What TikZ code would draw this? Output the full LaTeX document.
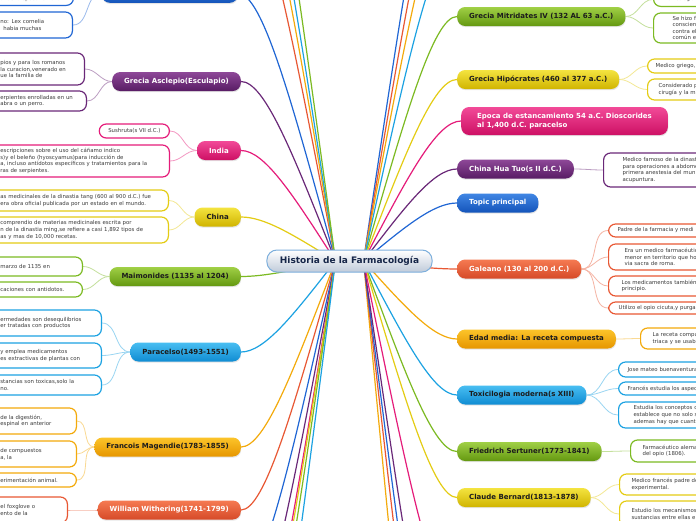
\documentclass[tikz,border=0pt]{standalone}
\usepackage{fontspec}
\setmainfont{DejaVu Sans}
\usetikzlibrary{backgrounds,shadows,calc}

\definecolor{ink}{RGB}{28,28,28}
\definecolor{leafink}{RGB}{60,60,60}
\definecolor{hubline}{RGB}{125,175,220}
\definecolor{hubbot}{RGB}{192,203,218}
\definecolor{hubtext}{RGB}{22,38,72}
\definecolor{gr}{RGB}{124,186,34}
\definecolor{grT}{RGB}{160,208,70}
\definecolor{grB}{RGB}{100,152,16}
\definecolor{ye}{RGB}{228,204,20}
\definecolor{yeT}{RGB}{244,228,64}
\definecolor{yeB}{RGB}{208,180,0}
\definecolor{pk}{RGB}{229,28,122}
\definecolor{pkT}{RGB}{242,74,152}
\definecolor{pkB}{RGB}{205,16,100}
\definecolor{pu}{RGB}{106,40,120}
\definecolor{puT}{RGB}{142,72,152}
\definecolor{puB}{RGB}{88,28,100}
\definecolor{bl}{RGB}{32,102,212}
\definecolor{blT}{RGB}{64,134,228}
\definecolor{blB}{RGB}{20,84,186}
\definecolor{sk}{RGB}{28,162,226}
\definecolor{skT}{RGB}{72,190,242}
\definecolor{skB}{RGB}{16,140,210}
\definecolor{rd}{RGB}{232,88,52}
\definecolor{rdT}{RGB}{245,122,82}
\definecolor{rdB}{RGB}{214,74,40}
\definecolor{og}{RGB}{243,170,12}
\definecolor{ogT}{RGB}{252,196,42}
\definecolor{ogB}{RGB}{230,150,0}

\begin{document}
\begin{tikzpicture}[x=1pt, y=-1pt,
    hub/.style={draw=hubline, line width=1pt, rounded corners=10pt,
                top color=white, bottom color=hubbot, text=hubtext,
                font=\fontsize{9}{11}\selectfont\bfseries,
                inner xsep=13pt, minimum height=22pt},
    topic/.style={rounded corners=8pt, inner xsep=12pt, minimum height=19pt,
                  font=\fontsize{7}{8.6}\selectfont\bfseries,
                  drop shadow={opacity=0.2, shadow xshift=0.4pt, shadow yshift=-1.2pt}},
    tgr/.style={topic, top color=grT, bottom color=grB, text=ink},
    tye/.style={topic, top color=yeT, bottom color=yeB, text=ink},
    tog/.style={topic, top color=ogT, bottom color=ogB, text=ink},
    tsk/.style={topic, top color=skT, bottom color=skB, text=ink},
    tpu/.style={topic, top color=puT, bottom color=puB, text=white},
    tpk/.style={topic, top color=pkT, bottom color=pkB, text=white},
    tbl/.style={topic, top color=blT, bottom color=blB, text=white},
    trd/.style={topic, top color=rdT, bottom color=rdB, text=white},
    leaf/.style={draw, fill=white, line width=1.2pt, rounded corners=7pt,
                 font=\fontsize{5.4}{6.6}\selectfont, text=leafink,
                 align=left, inner ysep=2pt},
    lfl/.style={leaf, anchor=east, inner xsep=10pt},
    lfr/.style={leaf, anchor=west, text width=150pt},
    spoke/.style={line width=1.2pt, to path={let \p1=(\tikztostart), \p2=(\tikztotarget) in
        .. controls ({\x1+0.45*(\x2-\x1)},{\y1+0.6*(\y2-\y1)}) and ({\x2-0.25*(\x2-\x1)},\y2) .. (\p2)}},
    twig/.style={line width=0.8pt}
  ]
  \useasboundingbox (0,0) rectangle (696,520);
  \clip (0,0) rectangle (696,520);

  % Central topic
  \node[hub] (hub) at (349.5,261) {Historia de la Farmacología};
  \coordinate (hl) at ($(hub.center)+(-14,0)$);
  \coordinate (hr) at ($(hub.center)+(14,0)$);

  % Left branches
  \node[tbl, anchor=south east, minimum width=136pt] (roma) at (238,3) {};
  \node[tpu, anchor=east] (asc) at (241,81.5) {Grecia Asclepio(Esculapio)};
  \node[tpk, anchor=east] (ind) at (241,150.5) {India};
  \node[tye, anchor=east] (chi) at (241,217) {China};
  \node[tgr, anchor=east] (mai) at (241,276.5) {Maimonides (1135 al 1204)};
  \node[tsk, anchor=east] (par) at (241,352) {Paracelso(1493-1551)};
  \node[tog, anchor=east] (mag) at (241,447) {Francois Magendie(1783-1855)};
  \node[trd, anchor=east] (wit) at (241,510) {William Withering(1741-1799)};

  % Right branches
  \node[tgr, anchor=west] (mit) at (457,16.5) {Grecia Mitridates IV (132 AL 63 a.C.)};
  \node[tye, anchor=west] (hip) at (457,79.5) {Grecia Hipócrates (460 al 377 a.C.)};
  \node[tpk, anchor=west, align=left, inner xsep=16pt, minimum height=28pt] (epo) at (461,121)
    {Epoca de estancamiento 54 a.C. Dioscorides\\al 1,400 d.C. paracelso};
  \node[tpu, anchor=west] (hua) at (457,169) {China Hua Tuo(s II d.C.)};
  \node[tbl, anchor=west] (tp) at (457,203) {Topic principal};
  \node[trd, anchor=west] (gal) at (457,269) {Galeano (130 al 200 d.C.)};
  \node[tog, anchor=west] (eda) at (457,339) {Edad media: La receta compuesta};
  \node[tsk, anchor=west] (tox) at (457,395) {Toxicilogia moderna(s XIII)};
  \node[tgr, anchor=west] (ser) at (457,451.5) {Friedrich Sertuner(1773-1841)};
  \node[tye, anchor=west] (ber) at (457,497.5) {Claude Bernard(1813-1878)};

  % Left leaves
  \node[lfl, draw=bl, anchor=south east, text width=63pt, minimum height=14pt] (r1) at (74,6)
    {al de la época romana.};
  \node[lfl, draw=bl, text width=62pt, minimum height=26pt] (r2) at (73,25)
    {no: Lex cornelia\\\hspace*{3pt}habia muchas};
  \node[lfl, draw=pu, text width=74pt, minimum height=32pt] (a1) at (85,69)
    {pios y para los romanos\\la curacion,venerado en\\ue la familia de};
  \node[lfl, draw=pu, text width=76pt, minimum height=20pt] (a2) at (87,101)
    {erpientes enrolladas en un\\abra o un perro.};
  \node[lfl, draw=pk, inner xsep=9pt, minimum height=14pt] (i1) at (170,131)
    {Sushruta(s VII d.C.)};
  \node[lfl, draw=pk, text width=159pt, minimum height=32pt] (i2) at (170,161)
    {escripciones sobre el uso del cáñamo indico\\s)y el beleño (hyoscyamus)para inducción de\\a, incluso antídotos específicos y tratamientos para la\\ras de serpientes.};
  \node[lfl, draw=ye, text width=158pt, minimum height=21pt] (c1) at (169,200.5)
    {as medicinales de la dinastia tang (600 al 900 d.C.) fue\\era obra oficial publicada por un estado en el mundo.};
  \node[lfl, draw=ye, text width=158pt, minimum height=26pt] (c2) at (169,230)
    {comprendio de materias medicinales escrita por\\n de la dinastia ming,se refiere a casi 1,892 tipos de\\as y mas de 10,000 recetas.};
  \node[lfl, draw=gr, text width=72pt, minimum height=19pt] (mm1) at (83,266.5)
    {marzo de 1135 en};
  \node[lfl, draw=gr, text width=82pt, minimum height=15pt] (mm2) at (83,289.5)
    {toxicaciones con antidotos.};
  \node[lfl, draw=sk, text width=91pt, minimum height=26pt] (p1) at (102,323)
    {ermedades son desequilibrios\\er tratadas con productos};
  \node[lfl, draw=sk, text width=91pt, minimum height=25pt] (p2) at (102,355.5)
    {y emplea medicamentos\\es extractivas de plantas con};
  \node[lfl, draw=sk, text width=91pt, minimum height=20pt] (p3) at (102,385)
    {stancias son toxicas,solo la\\no.};
  \node[lfl, draw=og, text width=66pt, minimum height=26pt] (mg1) at (77,421)
    {de la digestión,\\espinal en anterior};
  \node[lfl, draw=og, text width=66pt, minimum height=26pt] (mg2) at (77,454)
    {de compuestos\\a, la};
  \node[lfl, draw=og, text width=66pt, minimum height=14pt] (mg3) at (77,480)
    {erimentación animal.};
  \node[lfl, draw=rd, text width=57pt, minimum height=26pt] (w1) at (68,510)
    {el foxglove o\\ento de la};

  % Right leaves
  \node[lfr, draw=gr, anchor=south west, inner xsep=12pt, minimum height=14pt] (mt1) at (653,7)
    {toxicologia};
  \node[lfr, draw=gr, inner xsep=19pt, minimum height=30pt] (mt2) at (653,28)
    {Se hizo f\\conscien\\contra el\\común e};
  \node[lfr, draw=ye, inner xsep=8pt, minimum height=14pt] (h1) at (647,66)
    {Medico griego,};
  \node[lfr, draw=ye, inner xsep=11pt, minimum height=21pt] (h2) at (647,89.5)
    {Considerado p\\cirugía y la m};
  \node[lfr, draw=pu, inner xsep=19pt, minimum height=34pt] (hu1) at (603,170)
    {Medico famoso de la dinast\\para operaciones a abdome\\primera anestesia del mun\\acupuntura.};
  \node[lfr, draw=rd, inner xsep=9pt, minimum height=13pt] (ga1) at (608,230.5)
    {Padre de la farmacia y medi};
  \node[lfr, draw=rd, inner xsep=16pt, minimum height=26pt] (ga2) at (608,257)
    {Era un medico farmacéutic\\menor en territorio que ho\\via sacra de roma.};
  \node[lfr, draw=rd, inner xsep=13pt, minimum height=20pt] (ga3) at (608,286)
    {Los medicamentos también\\principio.};
  \node[lfr, draw=rd, inner xsep=10pt, minimum height=12pt] (ga4) at (608,308)
    {Utilizo el opio cicuta,y purga};
  \node[lfr, draw=og, inner xsep=12pt, minimum height=21pt] (ed1) at (640,338.5)
    {La receta compu\\triaca y se usab};
  \node[lfr, draw=sk, inner xsep=9pt, minimum height=15pt] (tx1) at (618,369.5)
    {Jose mateo buenaventura};
  \node[lfr, draw=sk, inner xsep=9pt, minimum height=13pt] (tx2) at (618,388.5)
    {Francés estudia los aspec};
  \node[lfr, draw=sk, inner xsep=15pt, minimum height=26pt] (tx3) at (618,415)
    {Estudia los conceptos d\\establece que no solo s\\ademas hay que cuanti};
  \node[lfr, draw=gr, inner xsep=12pt, minimum height=22pt] (se1) at (630,451)
    {Farmacéutico alema\\del opio (1806).};
  \node[lfr, draw=ye, inner xsep=12pt, minimum height=21pt] (be1) at (619,484.5)
    {Medico francés padre de\\experimental.};
  \node[lfr, draw=ye, inner xsep=12pt, minimum height=26pt] (be2) at (619,514)
    {Estudio los mecanismos\\sustancias entre ellas e};

  % Branches lying outside the view
  \coordinate (tl1) at (241,-110); \coordinate (tl2) at (241,-160);
  \coordinate (tl3) at (241,-200); \coordinate (tl4) at (241,-260);
  \coordinate (tr1) at (457,-210); \coordinate (tr2) at (457,-160);
  \coordinate (tr3) at (457,-115); \coordinate (tr4) at (457,-60);
  \coordinate (bl1) at (241,580);  \coordinate (bl2) at (241,643);
  \coordinate (bl3) at (241,698);  \coordinate (bl4) at (241,713);
  \coordinate (bl5) at (241,748);  \coordinate (bl6) at (241,818);
  \coordinate (br1) at (457,1000); \coordinate (br2) at (457,880);
  \coordinate (br3) at (457,810);  \coordinate (br4) at (457,740);
  \coordinate (br5) at (457,605);

  \begin{scope}[on background layer]
    \fill[white] (0,0) rectangle (696,520);
    \clip (0,0) rectangle (696,520);
    % spokes from the centre
    \foreach \nd/\cl in {roma/bl, asc/pu, ind/pk, chi/ye, mai/gr, par/sk, mag/og, wit/rd}
      \draw[spoke, \cl] (hl) to (\nd.east);
    \foreach \nd/\cl in {mit/gr, hip/ye, epo/pk, hua/pu, tp/bl, gal/rd, eda/og, tox/sk, ser/gr, ber/ye}
      \draw[spoke, \cl] (hr) to (\nd.west);
    \foreach \nd/\cl in {tl1/rd, tl2/og, tl3/sk, tl4/gr, bl1/bl, bl2/pu, bl3/pk, bl4/ye, bl5/gr, bl6/sk}
      \draw[spoke, \cl] (hl) to (\nd);
    \foreach \nd/\cl in {tr1/bl, tr2/rd, tr3/og, tr4/sk, br1/og, br2/rd, br3/bl, br4/pu, br5/pk}
      \draw[spoke, \cl] (hr) to (\nd);
    % leaf links
    \foreach \a/\b/\cl in {roma/r1/bl, roma/r2/bl, asc/a1/pu, asc/a2/pu, ind/i1/pk, ind/i2/pk,
                          chi/c1/ye, chi/c2/ye, mai/mm1/gr, mai/mm2/gr, par/p1/sk, par/p2/sk,
                          par/p3/sk, mag/mg1/og, mag/mg2/og, mag/mg3/og, wit/w1/rd}
      \draw[twig, \cl!45] (\a.west) to[out=180, in=0] (\b.east);
    \foreach \a/\b/\cl in {mit/mt1/gr, mit/mt2/gr, hip/h1/ye, hip/h2/ye, hua/hu1/pu,
                          gal/ga1/rd, gal/ga2/rd, gal/ga3/rd, gal/ga4/rd, eda/ed1/og,
                          tox/tx1/sk, tox/tx2/sk, tox/tx3/sk, ser/se1/gr, ber/be1/ye, ber/be2/ye}
      \draw[twig, \cl!45] (\a.east) to[out=0, in=180] (\b.west);
  \end{scope}
\end{tikzpicture}
\end{document}
